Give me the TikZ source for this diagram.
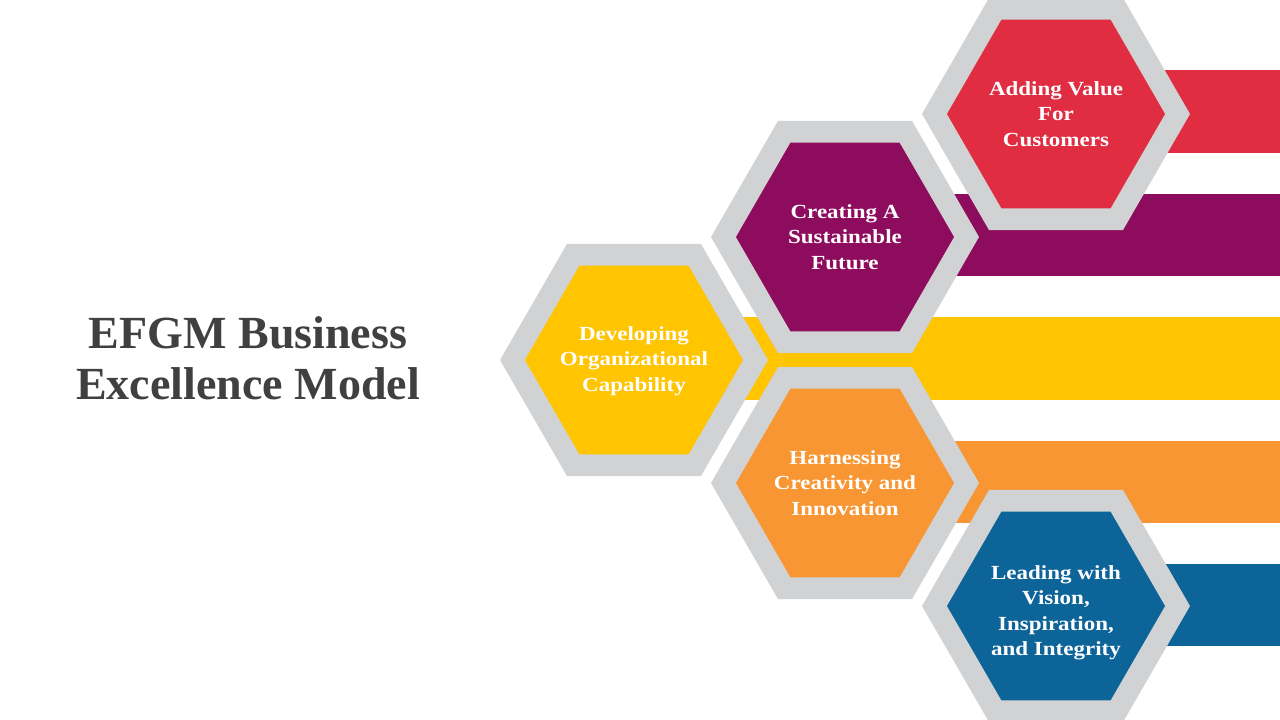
\documentclass[tikz,border=0pt]{standalone}
\usepackage{fontspec}
\setmainfont{Liberation Serif}
\newfontfamily\hexfont[FakeStretch=1.15]{Liberation Serif}
\usepackage{xcolor}
\usetikzlibrary{shapes.geometric}
\definecolor{cRed}{HTML}{E02D42}
\definecolor{cPur}{HTML}{8E0C5D}
\definecolor{cYel}{HTML}{FFC500}
\definecolor{cOra}{HTML}{F79632}
\definecolor{cBlu}{HTML}{0C6499}
\definecolor{cGry}{HTML}{D1D2D4}
\definecolor{cTxt}{HTML}{404040}

\begin{document}
\begin{tikzpicture}[
  x=1pt, y=-1pt,
  ring/.style ={regular polygon, regular polygon sides=6, inner sep=0pt,
                minimum size=268pt, fill=cGry},
  hex/.style  ={regular polygon, regular polygon sides=6, inner sep=0pt,
                minimum size=218pt},
  lbl/.style  ={align=center, text=white, inner sep=0pt,
                font=\hexfont\bfseries\fontsize{20}{25.5}\selectfont},
  title/.style={align=center, text=cTxt,
                font=\bfseries\fontsize{46}{51}\selectfont},
]
\useasboundingbox[fill=white] (0,0) rectangle (1280,720);

% bars behind the hexagons
\fill[cRed] (1056,70)  rectangle (1280,153);
\fill[cPur] (845,194)  rectangle (1280,276);
\fill[cYel] (634,317)  rectangle (1280,400);
\fill[cOra] (845,441)  rectangle (1280,523);
\fill[cBlu] (1056,564) rectangle (1280,646);

% hexagons: grey ring, coloured face, label
\foreach \nm/\x/\y/\dy/\col/\txt in {
    dev/634/360/1/cYel/{Developing\\Organizational\\Capability},
    sus/845/237/0/cPur/{Creating A\\Sustainable\\Future},
    val/1056/114/0/cRed/{Adding Value\\For\\Customers},
    inn/845/483/0/cOra/{Harnessing\\Creativity and\\Innovation},
    lea/1056/606/7/cBlu/{Leading with\\Vision,\\Inspiration,\\and Integrity}}{
  \node[ring] (ring\nm) at (\x,\y) {};
  \node[hex, fill=\col] (hex\nm) at (\x,\y) {};
  \node[lbl] (lbl\nm) at (\x,\y+\dy) {\txt};
}

\node[title] (title) at (248,358) {EFGM Business\\Excellence Model};
\end{tikzpicture}
\end{document}
